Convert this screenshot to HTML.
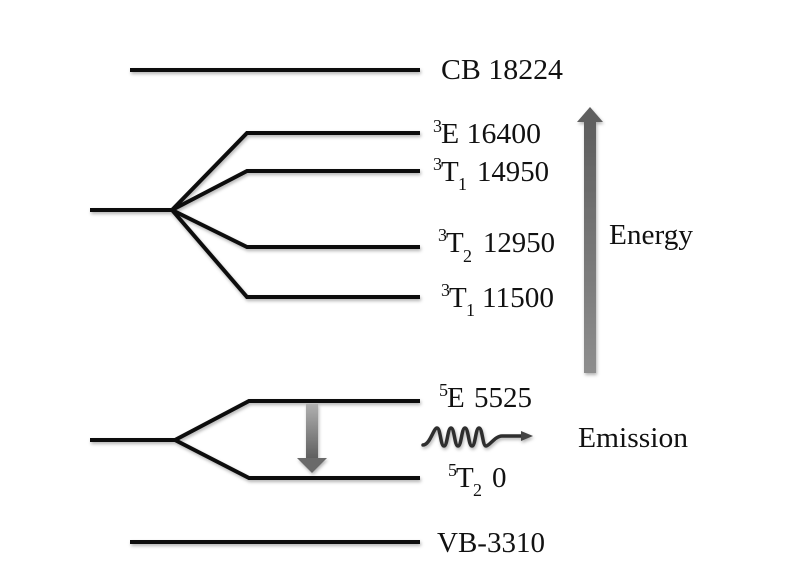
<!DOCTYPE html>
<html>
<head>
<meta charset="utf-8">
<style>
  html, body { margin: 0; padding: 0; background: #ffffff; }
  body { width: 800px; height: 565px; overflow: hidden; }
  svg { display: block; }
  text { font-family: "Liberation Serif", "Times New Roman", serif; fill: #111; }
</style>
</head>
<body>
<svg width="800" height="565" viewBox="0 0 800 565" xmlns="http://www.w3.org/2000/svg">
  <defs>
    <filter id="sh" x="-10%" y="-20%" width="120%" height="160%">
      <feDropShadow dx="1" dy="2" stdDeviation="1.5" flood-color="#000" flood-opacity="0.3"/>
    </filter>
    <linearGradient id="upg" x1="0" y1="0" x2="0" y2="1">
      <stop offset="0" stop-color="#5e5e5e"/>
      <stop offset="1" stop-color="#8e8e8e"/>
    </linearGradient>
    <linearGradient id="dng" x1="0" y1="0" x2="0" y2="1">
      <stop offset="0" stop-color="#b0b0b0"/>
      <stop offset="1" stop-color="#5e5e5e"/>
    </linearGradient>
  </defs>

  <g stroke="#111" stroke-width="4" fill="none" stroke-linejoin="miter" stroke-linecap="butt" filter="url(#sh)">
    <!-- CB -->
    <line x1="130" y1="70" x2="420" y2="70"/>
    <!-- upper fan -->
    <line x1="90" y1="210" x2="172" y2="210"/>
    <polyline points="172,210 247,133 420,133"/>
    <polyline points="172,210 247,171 420,171"/>
    <polyline points="172,210 247,247 420,247"/>
    <polyline points="172,210 247,297 420,297"/>
    <!-- lower fan -->
    <line x1="90" y1="440" x2="175" y2="440"/>
    <polyline points="175,440 249,401 420,401"/>
    <polyline points="175,440 249,478 420,478"/>
    <!-- VB -->
    <line x1="130" y1="542" x2="420" y2="542"/>
  </g>

  <!-- Energy arrow -->
  <g filter="url(#sh)">
    <rect x="584" y="121" width="12" height="252" fill="url(#upg)"/>
    <polygon points="577,122 603,122 590,107" fill="#5e5e5e"/>
  </g>

  <!-- Down arrow (emission transition) -->
  <g filter="url(#sh)">
    <rect x="306" y="404" width="12" height="55" fill="url(#dng)"/>
    <polygon points="297,458 327,458 312,473" fill="#6a6a6a"/>
  </g>

  <!-- Wavy emission arrow -->
  <g filter="url(#sh)">
    <path d="M423,445 C430,445 433.5,428 437,428 S440.5,446 444,446 S447.5,428 451,428 S454.5,446 458,446 S461.5,428 465,428 S468.5,446 472,446 S475.5,428 479,428 S482.5,446 486,446 S495,436 502,436 L524,436"
          fill="none" stroke="#2e2e2e" stroke-width="3.5" stroke-linecap="round"/>
    <polygon points="521,431 533,436 521,441" fill="#444"/>
  </g>

  <!-- Labels -->
  <text x="441" y="79" font-size="29" textLength="122" lengthAdjust="spacingAndGlyphs">CB 18224</text>

  <text x="433" y="132" font-size="18">3</text>
  <text x="441" y="143" font-size="29" textLength="100" lengthAdjust="spacingAndGlyphs">E 16400</text>

  <text x="433" y="170" font-size="18">3</text>
  <text x="441" y="181" font-size="29">T</text>
  <text x="458" y="190" font-size="18">1</text>
  <text x="477" y="181" font-size="29" textLength="72" lengthAdjust="spacingAndGlyphs">14950</text>

  <text x="438" y="241" font-size="18">3</text>
  <text x="446" y="252" font-size="29">T</text>
  <text x="463" y="262" font-size="18">2</text>
  <text x="483" y="252" font-size="29" textLength="72" lengthAdjust="spacingAndGlyphs">12950</text>

  <text x="441" y="296" font-size="18">3</text>
  <text x="449" y="307" font-size="29">T</text>
  <text x="466" y="316" font-size="18">1</text>
  <text x="482" y="307" font-size="29" textLength="72" lengthAdjust="spacingAndGlyphs">11500</text>

  <text x="609" y="244" font-size="29" textLength="84" lengthAdjust="spacingAndGlyphs">Energy</text>

  <text x="439" y="396" font-size="18">5</text>
  <text x="447" y="407" font-size="29">E</text>
  <text x="474" y="407" font-size="29" textLength="58" lengthAdjust="spacingAndGlyphs">5525</text>

  <text x="578" y="447" font-size="29" textLength="110" lengthAdjust="spacingAndGlyphs">Emission</text>

  <text x="448" y="476" font-size="18">5</text>
  <text x="456" y="487" font-size="29">T</text>
  <text x="473" y="496" font-size="18">2</text>
  <text x="492" y="487" font-size="29">0</text>

  <text x="437" y="552" font-size="29" textLength="108" lengthAdjust="spacingAndGlyphs">VB-3310</text>
</svg>
</body>
</html>
